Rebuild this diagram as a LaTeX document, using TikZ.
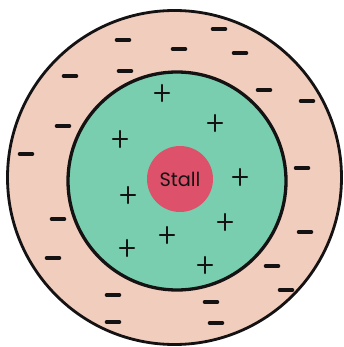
\documentclass[tikz,border=0pt]{standalone}
\usepackage{fontspec}
\usepackage{tikz}
\usetikzlibrary{positioning}
\newfontfamily\gothicfont{Poppins}
\definecolor{auraskin}{RGB}{241,205,190}
\definecolor{auragreen}{RGB}{120,206,174}
\definecolor{stallred}{RGB}{221,82,106}
\definecolor{inkline}{RGB}{20,18,18}
\tikzset{
  charge/.style={inkline,line width=3pt,line cap=round},
  ring/.style={inkline,line width=2.4pt},
}

\begin{document}
\begin{tikzpicture}[x=0.03cm,y=-0.03cm]
    \useasboundingbox (0,0) rectangle (343,347);
    % outer halo and inner ring
    \fill[white] (0,0) rectangle (343,347);
    \draw[ring,fill=auraskin] (174.5,177.5) circle (167);
    \draw[ring,line width=2.8pt,fill=auragreen] (177,181) circle (109);
    \node[circle,fill=stallred,minimum size=66*0.03cm,inner sep=0pt,
      font=\gothicfont\fontsize{16.5}{16.5}\selectfont,text=inkline]
      (stall) at (180,179) {Stall};
    % minus charges in the outer band
    \foreach \x/\y in {219/29,123/40,179/49,240/53,70/76,125/71,264/90,307/101,
      63/126,26/154,302/168,58/219,305/232,53/258,272/266,286/290,113/295,
      211/302,113/322,216/323}{
      \draw[charge] (\x-6.5,\y) -- (\x+6.5,\y);}
    % plus charges round the stall
    \foreach \x/\y in {162/93,215/123,120/139,240/177,128/195,225/222,
      167/235,127/248,205/265}{
      \draw[charge,line width=2pt] (\x-7,\y) -- (\x+7,\y);
      \draw[charge,line width=2pt] (\x,\y-8) -- (\x,\y+8);}
  \end{tikzpicture}
\end{document}
